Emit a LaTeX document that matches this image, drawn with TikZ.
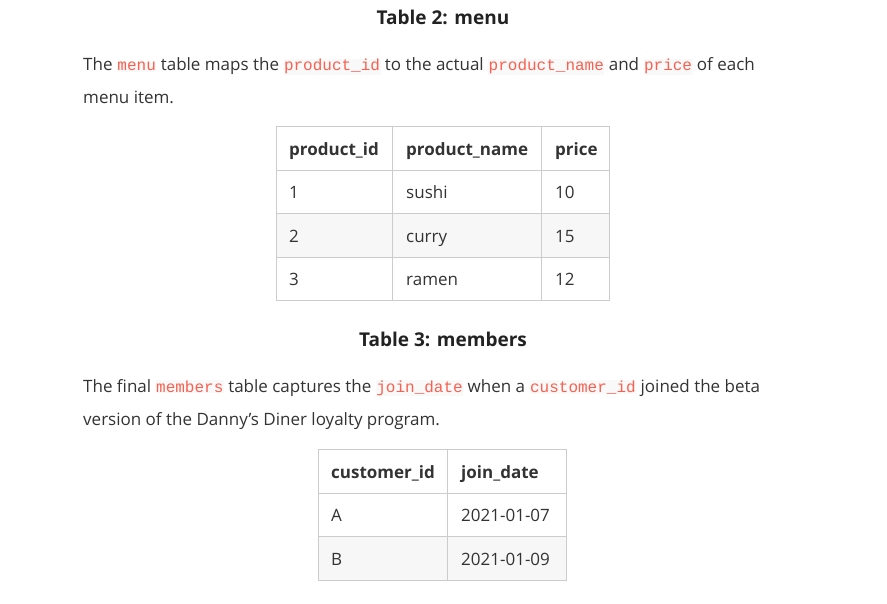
\documentclass[tikz,border=0pt]{standalone}
\usepackage{fontspec}
\setmainfont{Open Sans}
\setmonofont{Liberation Mono}
\definecolor{txt}{HTML}{333333}
\definecolor{ttl}{HTML}{222222}
\definecolor{codered}{HTML}{FA6050}
\definecolor{codebg}{HTML}{F9F9F9}
\definecolor{rulec}{HTML}{CCCCCC}
\definecolor{stripe}{HTML}{F7F7F7}
\newcommand\cd[1]{{\setlength\fboxsep{0.5pt}\colorbox{codebg}{\fontsize{16}{20}\selectfont\ttfamily\color{codered}#1}}}
\tikzset{
  body/.style={anchor=base west, inner sep=0, text=txt, font=\fontsize{17}{20}\selectfont},
  ttlstyle/.style={anchor=base, inner sep=0, text=ttl, font=\fontsize{19}{22}\selectfont\bfseries},
  cell/.style={anchor=base west, inner sep=0, text=txt, font=\fontsize{17}{20}\selectfont},
  hcell/.style={anchor=base west, inner sep=0, text=txt, font=\fontsize{17}{20}\selectfont\bfseries},
  grid/.style={draw=rulec, line width=1pt},
}
\begin{document}
\begin{tikzpicture}[x=1pt,y=-1pt]
\useasboundingbox (0,0) rectangle (887,604);
% ---------- Table 2 title and text
\node[ttlstyle] (t2) at (443,25) {Table 2: menu};
\node[body] (p1a) at (83,71) {The \cd{menu} table maps the \cd{product\_id} to the actual \cd{product\_name} and \cd{price} of each};
\node[body] (p1b) at (83,104) {menu item.};
% ---------- menu table
\fill[stripe] (276,214) rectangle (609,258);
\draw[grid] (276,127) rectangle (609,301);
\foreach \yy in {171,214,258} \draw[grid] (276,\yy) -- (609,\yy);
\foreach \xx in {392,541} \draw[grid] (\xx,127) -- (\xx,301);
\node[hcell] (h1) at (289,156) {product\_id};
\node[hcell] (h2) at (406,156) {product\_name};
\node[hcell] (h3) at (555,156) {price};
\node[cell] (c11) at (289,199) {1};
\node[cell] (c12) at (406,199) {sushi};
\node[cell] (c13) at (555,199) {10};
\node[cell] (c21) at (289,243) {2};
\node[cell] (c22) at (406,243) {curry};
\node[cell] (c23) at (555,243) {15};
\node[cell] (c31) at (289,286) {3};
\node[cell] (c32) at (406,286) {ramen};
\node[cell] (c33) at (555,286) {12};
% ---------- Table 3 title and text
\node[ttlstyle] (t3) at (443,347) {Table 3: members};
\node[body] (p2a) at (83,392) {The final \cd{members} table captures the \cd{join\_date} when a \cd{customer\_id} joined the beta};
\node[body] (p2b) at (83,425) {version of the Danny’s Diner loyalty program.};
% ---------- members table
\fill[stripe] (318,536) rectangle (566,580);
\draw[grid] (318,449) rectangle (566,580);
\foreach \yy in {493,536} \draw[grid] (318,\yy) -- (566,\yy);
\draw[grid] (447,449) -- (447,580);
\node[hcell] (m1) at (331,478) {customer\_id};
\node[hcell] (m2) at (461,478) {join\_date};
\node[cell] (d11) at (331,521) {A};
\node[cell] (d12) at (461,521) {2021-01-07};
\node[cell] (d21) at (331,565) {B};
\node[cell] (d22) at (461,565) {2021-01-09};
\end{tikzpicture}
\end{document}
